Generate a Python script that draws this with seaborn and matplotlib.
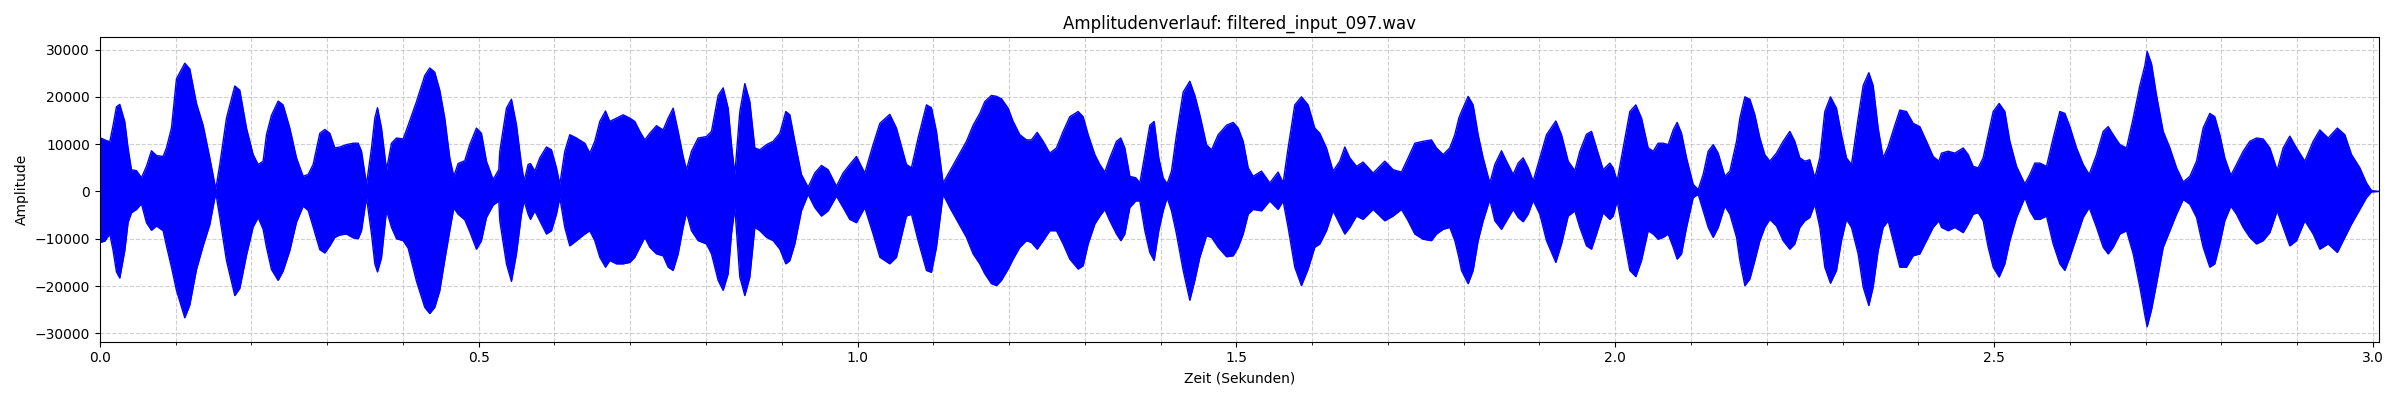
import matplotlib
matplotlib.use('Agg')
import matplotlib.pyplot as plt
from matplotlib.ticker import MultipleLocator
import seaborn as sns

# Title
title = "Amplitudenverlauf: filtered_input_097.wav"

# Envelope of the waveform (seconds / amplitude)
time_s = [
    0.0000, 0.0066, 0.0132, 0.0176, 0.0220, 0.0264, 0.0330, 0.0374, 0.0418, 0.0484,
    0.0550, 0.0616, 0.0682, 0.0748, 0.0836, 0.0880, 0.0946, 0.1012, 0.1122, 0.1188,
    0.1276, 0.1364, 0.1452, 0.1531, 0.1584, 0.1672, 0.1782, 0.1848, 0.1936, 0.2024,
    0.2090, 0.2156, 0.2200, 0.2266, 0.2354, 0.2420, 0.2508, 0.2596, 0.2684, 0.2750,
    0.2816, 0.2904, 0.2970, 0.3036, 0.3102, 0.3168, 0.3256, 0.3344, 0.3410, 0.3454,
    0.3520, 0.3586, 0.3630, 0.3665, 0.3718, 0.3784, 0.3850, 0.3916, 0.4004, 0.4070,
    0.4180, 0.4289, 0.4355, 0.4421, 0.4487, 0.4553, 0.4619, 0.4672, 0.4729, 0.4817,
    0.4883, 0.4971, 0.5037, 0.5103, 0.5191, 0.5266,
    0.5279, 0.5367, 0.5433, 0.5499, 0.5565, 0.5600, 0.5653, 0.5684, 0.5741, 0.5807,
    0.5895, 0.5961, 0.6027, 0.6071, 0.6137, 0.6203, 0.6291, 0.6401, 0.6467, 0.6533,
    0.6599, 0.6674, 0.6731, 0.6819, 0.6907, 0.6995, 0.7061, 0.7127, 0.7193, 0.7259,
    0.7347, 0.7435, 0.7501, 0.7567, 0.7633, 0.7699, 0.7743, 0.7809, 0.7897, 0.8007,
    0.8073, 0.8161, 0.8227, 0.8293, 0.8337, 0.8381, 0.8447, 0.8513, 0.8579, 0.8645,
    0.8711, 0.8799, 0.8887, 0.8975, 0.9054, 0.9107, 0.9173, 0.9260, 0.9348, 0.9436,
    0.9524, 0.9612, 0.9722, 0.9810, 0.9898, 0.9986, 1.0096, 1.0206, 1.0295, 1.0426,
    1.0514, 1.0646, 1.0712, 1.0800, 1.0910, 1.0976, 1.1042, 1.1130, 1.1218,
    1.1438, 1.1526, 1.1614, 1.1680, 1.1768, 1.1834, 1.1900, 1.1988, 1.2054, 1.2142,
    1.2230, 1.2296, 1.2371, 1.2450, 1.2538, 1.2626, 1.2714, 1.2802, 1.2912, 1.2978,
    1.3044, 1.3132, 1.3198, 1.3264, 1.3330, 1.3418, 1.3475, 1.3528, 1.3594, 1.3673,
    1.3726, 1.3792, 1.3858, 1.3915, 1.3976, 1.4034, 1.4086, 1.4144, 1.4210, 1.4298,
    1.4386, 1.4452, 1.4518, 1.4606, 1.4672, 1.4760, 1.4870, 1.4958, 1.5024, 1.5090,
    1.5156, 1.5221, 1.5332, 1.5441, 1.5551, 1.5617, 1.5683, 1.5771, 1.5859, 1.5947,
    1.6035, 1.6101, 1.6189, 1.6277, 1.6365, 1.6431, 1.6497, 1.6585, 1.6673, 1.6805,
    1.6959, 1.7069, 1.7179, 1.7267, 1.7355, 1.7465, 1.7575, 1.7641, 1.7729, 1.7817,
    1.7883, 1.7936,
    1.7971, 1.8059, 1.8125, 1.8191, 1.8257, 1.8345, 1.8411, 1.8499, 1.8565, 1.8653,
    1.8719, 1.8785, 1.8851, 1.8917, 1.9005, 1.9093, 1.9216, 1.9291, 1.9379, 1.9467,
    1.9533, 1.9621, 1.9687, 1.9753, 1.9841, 1.9929, 1.9973, 2.0025, 2.0105, 2.0193,
    2.0272, 2.0347, 2.0435, 2.0501, 2.0567, 2.0633, 2.0699, 2.0765, 2.0817, 2.0875,
    2.0941, 2.1029, 2.1095, 2.1161, 2.1227, 2.1293, 2.1359, 2.1447, 2.1513, 2.1601,
    2.1645, 2.1711, 2.1777, 2.1843, 2.1909, 2.1974, 2.2040, 2.2128, 2.2216, 2.2304,
    2.2370, 2.2436, 2.2502, 2.2568, 2.2634, 2.2700, 2.2766, 2.2841, 2.2920, 2.2986,
    2.3052, 2.3118, 2.3206, 2.3272, 2.3347, 2.3404, 2.3470, 2.3536, 2.3602, 2.3690,
    2.3756, 2.3844, 2.3932, 2.4020, 2.4108, 2.4196, 2.4271,
    2.4306, 2.4394, 2.4482, 2.4592, 2.4658, 2.4724, 2.4790, 2.4856, 2.4922, 2.4988,
    2.5067, 2.5142, 2.5208, 2.5296, 2.5406, 2.5472, 2.5538, 2.5604, 2.5692, 2.5780,
    2.5868, 2.5934, 2.6000, 2.6088, 2.6176, 2.6255, 2.6352, 2.6440, 2.6506, 2.6572,
    2.6660, 2.6748, 2.6836, 2.6924, 2.6990, 2.7020, 2.7078, 2.7144, 2.7232, 2.7320,
    2.7408, 2.7496, 2.7584, 2.7672, 2.7759, 2.7847, 2.7913, 2.7979, 2.8045, 2.8125,
    2.8199, 2.8287, 2.8375, 2.8463, 2.8551, 2.8639, 2.8736, 2.8815, 2.8903, 2.8991,
    2.9101, 2.9211, 2.9299, 2.9409, 2.9530, 2.9629, 2.9717, 2.9827, 2.9915, 2.9981,
    3.0069,
]

env_upper = [
    11400, 10900, 10500, 14000, 17900, 18400, 14750, 9100, 4600, 4400,
    2900, 5300, 8600, 7600, 7400, 9200, 13400, 23800, 27100, 25900,
    18600, 14000, 7100, 500, 5700, 15500, 22300, 21400, 13400, 7800,
    5700, 6400, 12000, 16100, 19100, 18300, 13400, 7100, 3200, 3600,
    5700, 12300, 13100, 12300, 9200, 9400, 9900, 10200, 10200, 8500,
    1500, 9200, 15500, 17700, 13400, 4600, 10200, 11300, 11100, 14000,
    19000, 24500, 26100, 25200, 21400, 15500, 7100, 3200, 5900, 6500,
    9900, 13400, 12300, 6400, 2500, 4600,
    8500, 17600, 19500, 14100, 5700, 2200, 5700, 5900, 4300, 7100,
    9400, 8800, 5000, 1500, 8500, 12000, 11300, 10200, 8100, 10600,
    14800, 17000, 14800, 15500, 16200, 15500, 14800, 12700, 10900, 12300,
    13900, 13000, 15500, 17600, 12700, 7400, 4600, 8500, 11300, 11600,
    12700, 20300, 21900, 17600, 9900, 3600, 16900, 22800, 19000, 9200,
    8800, 9900, 10600, 12300, 16900, 16200, 10600, 3600, 900, 3900,
    5500, 4600, 1100, 3900, 5700, 7400, 3900, 9900, 14400, 16300,
    13400, 5700, 5000, 11300, 18300, 17700, 12700, 1800, 4300,
    10600, 14000, 16500, 19000, 20300, 20100, 19600, 17600, 14800, 12000,
    10900, 10900, 12500, 10600, 8100, 9200, 12700, 15800, 16900, 15800,
    12000, 7800, 5700, 4100, 7100, 10600, 11300, 9200, 3200, 2900,
    1800, 7800, 14000, 14800, 7100, 2900, 1600, 4300, 12000, 21000,
    23300, 20300, 16200, 9900, 8800, 12000, 14000, 14600, 13400, 10600,
    5000, 3200, 4300, 1800, 4100, 1800, 9200, 18300, 20000, 18300,
    13400, 12300, 9200, 4300, 6400, 9400, 7100, 5300, 6200, 3900,
    6400, 4600, 4100, 7100, 10200, 10600, 10900, 9200, 7800, 9200,
    12000, 15500,
    16900, 20100, 18300, 12000, 7100, 1800, 5700, 8600, 6400, 3600,
    6000, 7100, 5000, 2200, 7100, 12000, 14900, 12000, 6400, 4400,
    8500, 12100, 12700, 9200, 4600, 6000, 5000, 2200, 9200, 16900,
    18300, 15500, 9200, 8500, 10200, 10200, 9900, 13000, 14600, 12300,
    7100, 1500, 400, 3600, 8500, 9900, 8100, 3200, 4300, 10600,
    15500, 20000, 19500, 16200, 11300, 7800, 6400, 8100, 10600, 12700,
    10600, 7100, 6400, 6700, 2900, 7100, 16900, 20000, 17600, 12000,
    7100, 5700, 15500, 22400, 25100, 22400, 13400, 7100, 9500, 14000,
    17200, 16900, 14400, 13700, 10600, 7400, 6400,
    8100, 8500, 8100, 9200, 7800, 5300, 5000, 7100, 12000, 16900,
    18600, 16900, 10600, 5300, 1600, 3600, 6000, 6000, 5300, 11300,
    16900, 16500, 13700, 9200, 5700, 3600, 7800, 12700, 13700, 12000,
    9900, 9200, 15500, 22400, 26600, 29600, 27000, 20300, 12700, 9200,
    5000, 2000, 3200, 6400, 13400, 16500, 15800, 12000, 7100, 3400,
    5700, 8500, 10600, 11300, 11100, 9200, 4500, 9200, 11700, 9200,
    6400, 10600, 13000, 11300, 13400, 12000, 7800, 5000, 1800, 200,
    0,
]

env_lower = [
    -10800, -10500, -9000, -12500, -17000, -18300, -12500, -6500, -4500, -3800,
    -2600, -6600, -8200, -7300, -8300, -11500, -16000, -20900, -26700, -24000,
    -16500, -11500, -7000, -300, -5500, -14600, -22000, -20500, -13500, -7500,
    -5500, -8000, -11800, -16500, -18800, -16800, -12500, -6500, -3100, -4000,
    -7500, -12300, -13000, -11500, -9700, -9200, -9000, -9800, -10000, -8300,
    -1300, -9000, -15300, -17000, -14000, -4000, -7600, -10000, -10400, -12000,
    -19000, -24500, -25800, -24500, -21000, -14500, -8300, -3500, -4800, -6000,
    -8500, -12200, -10400, -5500, -2900, -2000,
    -6200, -15300, -19000, -13200, -4800, -2000, -4800, -5900, -4100, -6200,
    -9000, -8300, -4800, -1300, -7600, -11500, -10400, -9000, -8300, -10400,
    -13900, -16000, -14600, -15300, -15300, -15000, -13900, -11800, -9700, -11800,
    -13200, -13600, -16000, -16700, -13200, -7600, -4500, -8300, -10400, -11100,
    -13200, -18800, -20900, -17400, -9000, -3400, -18100, -22000, -18100, -7600,
    -8300, -9700, -10400, -12200, -15300, -14600, -11100, -4100, -600, -3400,
    -5200, -4100, -1000, -3400, -5900, -6600, -3400, -9000, -13900, -15300,
    -13900, -5200, -4800, -10400, -16700, -17100, -11800, -600, -3400,
    -9700, -13200, -15300, -17400, -19500, -19900, -18800, -16400, -14300, -11800,
    -10400, -10800, -12200, -10400, -8300, -8300, -11100, -14300, -16400, -15700,
    -11100, -6900, -5200, -3800, -6200, -9000, -10400, -9000, -3400, -2000,
    -2000, -8300, -12900, -14600, -8300, -4100, -1300, -4100, -9000, -16700,
    -23000, -18800, -13900, -9400, -9700, -11800, -13800, -13600, -11800, -9000,
    -4800, -3800, -4100, -2000, -3800, -2000, -7600, -16000, -19900, -16400,
    -11800, -11100, -8300, -4100, -6900, -9000, -7600, -5200, -5900, -3800,
    -6200, -5200, -3800, -6200, -9000, -10100, -10400, -9000, -8000, -7600,
    -10400, -13900,
    -16700, -19500, -16700, -10400, -6200, -1700, -6200, -8000, -6200, -3800,
    -5500, -6400, -4800, -1900, -4800, -10400, -15000, -11100, -5200, -4100,
    -7600, -11500, -12200, -9000, -4500, -5900, -5200, -2000, -9000, -16700,
    -18000, -14600, -8300, -9000, -10100, -9700, -9000, -11800, -14300, -13200,
    -7600, -1300, -600, -4100, -7600, -9700, -7600, -3100, -4800, -9700,
    -14600, -19900, -18500, -14600, -10400, -7600, -5900, -7300, -10400, -12200,
    -11100, -7600, -6200, -5500, -2700, -7600, -16000, -19400, -16700, -10400,
    -5900, -7600, -13200, -20200, -24100, -20200, -12500, -7600, -6200, -11800,
    -16000, -16000, -13600, -13200, -10400, -7600, -6200,
    -7600, -8300, -7600, -8700, -6900, -4800, -4500, -6200, -11800, -16000,
    -18100, -15300, -10400, -5500, -1300, -4100, -5900, -5900, -5200, -11100,
    -15300, -16700, -13900, -9700, -5500, -3400, -7600, -11800, -13200, -11800,
    -9000, -8300, -13200, -20200, -26200, -28600, -25000, -19500, -11800, -8300,
    -4800, -1700, -2700, -5500, -11800, -16000, -15300, -11100, -6200, -3100,
    -4800, -7600, -9700, -11100, -10400, -8700, -4100, -7600, -11500, -10400,
    -6200, -9000, -12200, -11100, -12900, -9700, -6900, -3800, -1300, -100,
    0,
]

# Plot
fig, ax = plt.subplots(figsize=(24, 4), dpi=100)
ax.fill_between(time_s, env_lower, env_upper, color='blue', linewidth=0)
sns.lineplot(x=time_s, y=env_upper, color='blue', linewidth=1, ax=ax)
sns.lineplot(x=time_s, y=env_lower, color='blue', linewidth=1, ax=ax)

# Formatting
ax.set_xlim(0, 3.008)
ax.set_ylim(-31760, 32580)
ax.xaxis.set_major_locator(MultipleLocator(0.5))
ax.xaxis.set_minor_locator(MultipleLocator(0.1))
ax.set_axisbelow(True)
ax.grid(True, which='both', linestyle='--', alpha=0.6)
ax.set_title(title)
ax.set_xlabel('Zeit (Sekunden)')
ax.set_ylabel('Amplitude')
plt.tight_layout()
plt.savefig('out.png', dpi=100)
